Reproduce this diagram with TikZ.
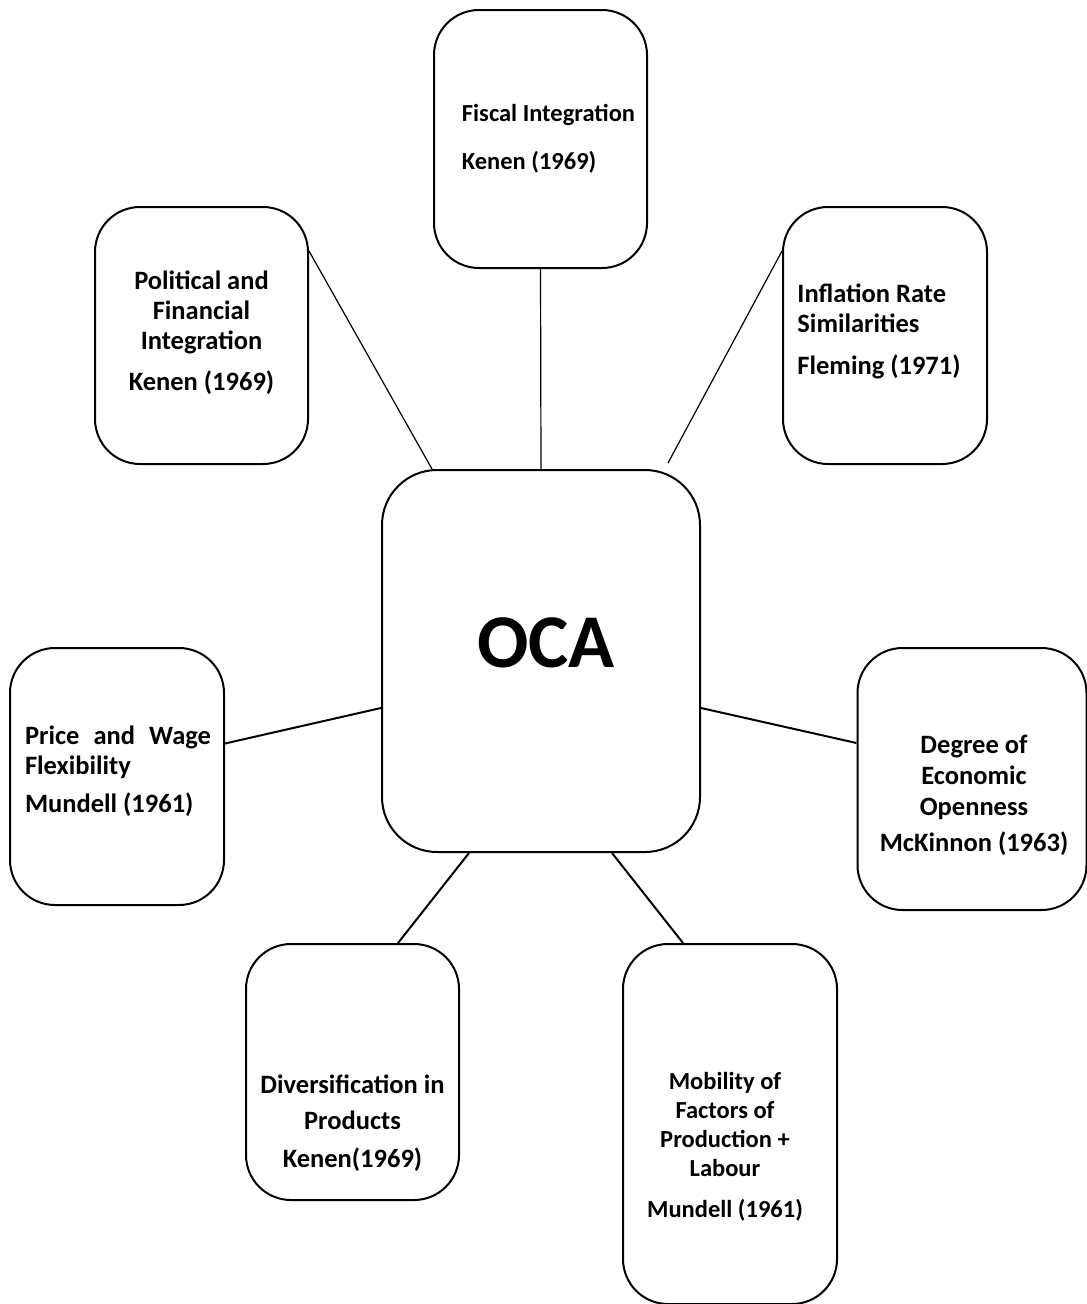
\documentclass[tikz,border=0pt]{standalone}
\usepackage{fontspec}
\setmainfont{Carlito}
\usetikzlibrary{positioning, calc}

\begin{document}
\begin{tikzpicture}[
    x=1pt, y=-1pt,
    box/.style={rectangle, draw=black, line width=2pt, rounded corners=45pt,
                minimum width=213pt, minimum height=257pt},
    txt/.style={font=\fontsize{26.5}{30}\selectfont\bfseries, inner sep=0pt},
    smalltxt/.style={txt, font=\fontsize{24.5}{29}\selectfont\bfseries},
    link/.style={draw=black, line width=1.2pt},
    thicklink/.style={draw=black, line width=2pt}
  ]
    \useasboundingbox (0,0) rectangle (1087,1304);

    % boxes
    \node[box, minimum width=318pt, minimum height=382pt, rounded corners=55pt] (oca) at (541,661) {};
    \node[box, minimum height=258pt] (fiscal) at (540.5,139) {};
    \node[box] (political) at (201.5,335.5) {};
    \node[box, minimum width=204pt] (inflation) at (885,335.5) {};
    \node[box, minimum width=214pt] (price) at (117,776.5) {};
    \node[box, minimum width=229pt, minimum height=262pt] (degree) at (972,779) {};
    \node[box, minimum height=256pt] (divers) at (352.5,1072) {};
    \node[box, minimum width=214pt, minimum height=360pt] (mobility) at (730,1124) {};

    % texts
    \node[font=\fontsize{76}{80}\selectfont\bfseries, inner sep=0pt] (oca-t) at ([xshift=5pt, yshift=18pt]oca.center) {OCA};
    \node[smalltxt, align=left] (fiscal-t) at ([xshift=8pt]fiscal.center) {Fiscal Integration\\[19pt]Kenen (1969)};
    \node[txt, align=center] (political-t) at ([yshift=3pt]political.center) {Political and\\Financial\\Integration\\[11pt]Kenen (1969)};
    \node[txt, align=left] (inflation-t) at ([xshift=-6pt, yshift=4pt]inflation.center) {Inflation Rate\\Similarities\\[12pt]Fleming (1971)};
    \node[txt, align=left] (price-t) at ([xshift=1pt, yshift=5pt]price.center) {\makebox[186pt][s]{Price and Wage}\\Flexibility\\[8pt]Mundell (1961)};
    \node[txt, align=center] (degree-t) at ([xshift=2pt, yshift=-16pt]degree.center) {Degree of\\[1pt]Economic\\[1pt]Openness\\[6pt]McKinnon (1963)};
    \node[txt, align=center] (divers-t) at ([yshift=-51pt]divers.center) {Diversification in\\[6pt]Products\\[8pt]Kenen(1969)};
    \node[smalltxt, align=center] (mobility-t) at ([xshift=-5pt, yshift=-23pt]mobility.center) {Mobility of\\Factors of\\Production +\\Labour\\[12pt]Mundell (1961)};

    % connectors
    \draw[link] (fiscal.south) -- (oca.north);
    \draw[link] ([yshift=-45pt]political.north east) -- ([xshift=51pt]oca.north west);
    \draw[link] ([yshift=-45pt]inflation.north west) -- ([xshift=-33pt, yshift=6pt]oca.north east);
    \draw[thicklink] ([yshift=33pt]price.east) -- ([yshift=-47pt]oca.west);
    \draw[thicklink] ([yshift=-47pt]oca.east) -- ([yshift=36pt]degree.west);
    \draw[thicklink] ([xshift=45.5pt]divers.north) -- ([xshift=-72pt]oca.south);
    \draw[thicklink] ([xshift=-47pt]mobility.north) -- ([xshift=71pt]oca.south);
  \end{tikzpicture}
\end{document}
